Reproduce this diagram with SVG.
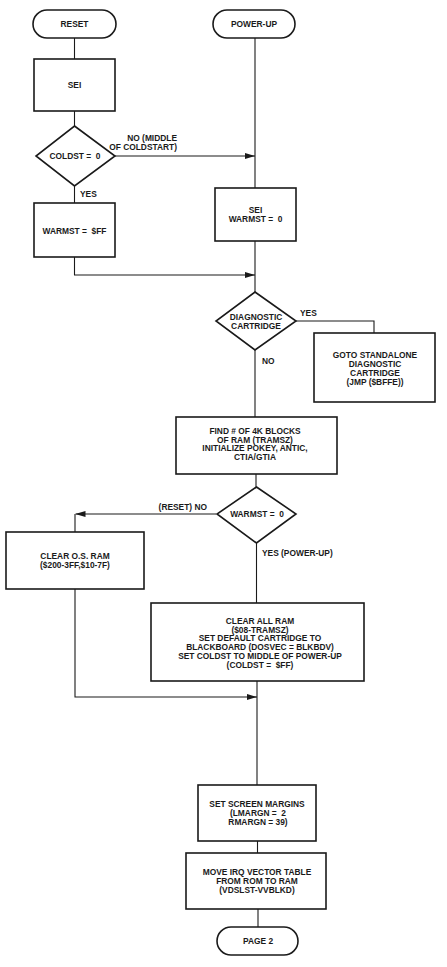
<svg xmlns="http://www.w3.org/2000/svg" width="447" height="967" viewBox="0 0 447 967">
<defs>
<style>
.n{fill:#fff;stroke:#1a1a1a;stroke-width:1.6}
.c{fill:none;stroke:#1a1a1a;stroke-width:1.1}
text{font-family:"Liberation Sans",Arial,sans-serif;font-size:8.4px;font-weight:bold;fill:#1a1a1a;text-anchor:middle}
text.l{text-anchor:start}
text.r{text-anchor:end}
</style>
<marker id="ah" viewBox="0 0 10 6" refX="10" refY="3" markerWidth="10" markerHeight="6" markerUnits="userSpaceOnUse" orient="auto">
<path d="M0,0 L10,3 L0,6 Z" fill="#1a1a1a"/>
</marker>
</defs>
<rect width="447" height="967" fill="#fff"/>
<g id="connectors">
<path class="c" d="M74.5,38 V59"/>
<path class="c" d="M74.5,111 V126"/>
<path class="c" d="M115,156 H255" marker-end="url(#ah)"/>
<path class="c" d="M255,38 V188"/>
<path class="c" d="M74.5,186 V203"/>
<path class="c" d="M74.5,257 V275 H255" marker-end="url(#ah)"/>
<path class="c" d="M255,241 V292"/>
<path class="c" d="M296,321 H374 V333"/>
<path class="c" d="M255,350 V417"/>
<path class="c" d="M256,474 V487"/>
<path class="c" d="M216,514 H75.5" marker-end="url(#ah)"/>
<path class="c" d="M75,514 V532"/>
<path class="c" d="M256.5,543 V603"/>
<path class="c" d="M75,589 V697 H257" marker-end="url(#ah)"/>
<path class="c" d="M257,681 V785"/>
<path class="c" d="M257.5,841 V853"/>
<path class="c" d="M258,909 V927"/>
<text class="r" x="177" y="141">NO (MIDDLE</text>
<text class="r" x="177" y="150">OF COLDSTART)</text>
<text class="l" x="80" y="197">YES</text>
<text class="l" x="300" y="316">YES</text>
<text class="l" x="262" y="364">NO</text>
<text class="r" x="207" y="510">(RESET) NO</text>
<text class="l" x="262" y="556">YES (POWER-UP)</text>
</g>
<g id="reset">
<rect class="n" x="33" y="10" width="83" height="28" rx="14"/>
<text x="74.5" y="27">RESET</text>
</g>
<g id="powerup">
<rect class="n" x="213" y="10" width="82" height="28" rx="14"/>
<text x="254" y="27">POWER-UP</text>
</g>
<g id="sei">
<rect class="n" x="34" y="59" width="81" height="52"/>
<text x="74.5" y="88">SEI</text>
</g>
<g id="coldst">
<polygon class="n" points="74.5,126 115,156 74.5,186 36,156"/>
<text x="75" y="159" xml:space="preserve">COLDST =  0</text>
</g>
<g id="warmst-ff">
<rect class="n" x="34" y="203" width="81" height="54"/>
<text x="74.5" y="234" xml:space="preserve">WARMST =  $FF</text>
</g>
<g id="sei-warmst">
<rect class="n" x="215" y="188" width="81" height="53"/>
<text x="255.5" y="213">SEI</text>
<text x="255.5" y="222" xml:space="preserve">WARMST =  0</text>
</g>
<g id="diagnostic">
<polygon class="n" points="255,292 296,321 255,350 216,321"/>
<text x="256" y="320">DIAGNOSTIC</text>
<text x="256" y="329">CARTRIDGE</text>
</g>
<g id="goto">
<rect class="n" x="314" y="333" width="121" height="69"/>
<text x="375" y="358">GOTO STANDALONE</text>
<text x="375" y="367">DIAGNOSTIC</text>
<text x="375" y="375.5">CARTRIDGE</text>
<text x="375" y="384.5">(JMP ($BFFE))</text>
</g>
<g id="find">
<rect class="n" x="176" y="417" width="161" height="57"/>
<text x="255" y="434">FIND # OF 4K BLOCKS</text>
<text x="255" y="442.5">OF RAM (TRAMSZ)</text>
<text x="255" y="451">INITIALIZE POKEY, ANTIC,</text>
<text x="255" y="460">CTIA/GTIA</text>
</g>
<g id="warmst-test">
<polygon class="n" points="256.5,487 296,514 256.5,543 217,514"/>
<text x="257" y="517" xml:space="preserve">WARMST =  0</text>
</g>
<g id="clear-os">
<rect class="n" x="6" y="532" width="138" height="57"/>
<text x="75" y="559">CLEAR O.S. RAM</text>
<text x="75" y="568">($200-3FF,$10-7F)</text>
</g>
<g id="clear-all">
<rect class="n" x="151" y="603" width="213" height="78"/>
<text x="260" y="624">CLEAR ALL RAM</text>
<text x="260" y="632.5">($08-TRAMSZ)</text>
<text x="260" y="641">SET DEFAULT CARTRIDGE TO</text>
<text x="260" y="650">BLACKBOARD (DOSVEC =  BLKBDV)</text>
<text x="260" y="659">SET COLDST TO MIDDLE OF POWER-UP</text>
<text x="260" y="667.5" xml:space="preserve">(COLDST =  $FF)</text>
</g>
<g id="margins">
<rect class="n" x="198" y="785" width="118" height="56"/>
<text x="257" y="807">SET SCREEN MARGINS</text>
<text x="258" y="815.8" xml:space="preserve">(LMARGN =  2</text>
<text x="258" y="824.6">RMARGN = 39)</text>
</g>
<g id="irq">
<rect class="n" x="186" y="853" width="140" height="56"/>
<text x="257" y="875">MOVE IRQ VECTOR TABLE</text>
<text x="257" y="883.8">FROM ROM TO RAM</text>
<text x="257" y="892.6">(VDSLST-VVBLKD)</text>
</g>
<g id="page2">
<rect class="n" x="217" y="927" width="81" height="28" rx="14"/>
<text x="258" y="944">PAGE 2</text>
</g>
</svg>
